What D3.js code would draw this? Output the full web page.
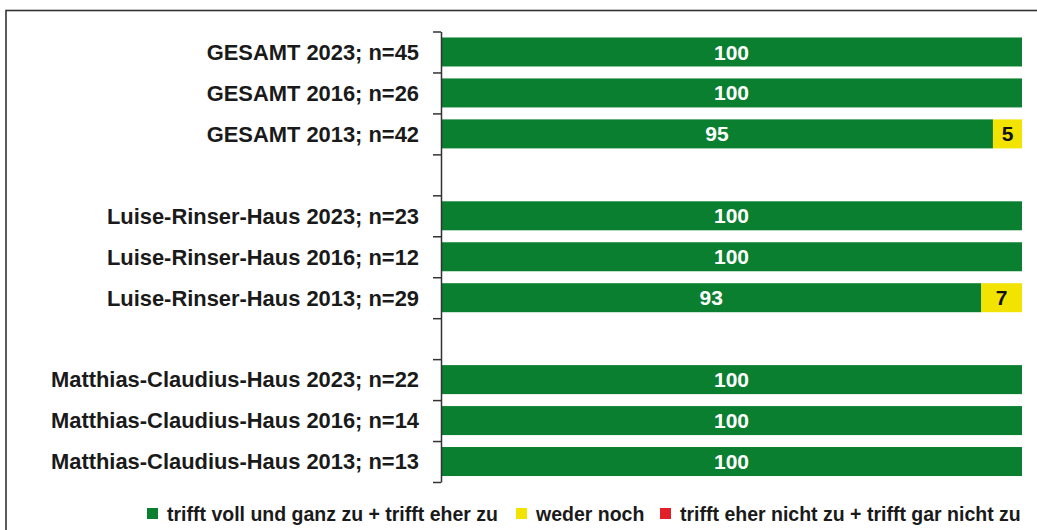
<!DOCTYPE html>
<html>
<head>
<meta charset="utf-8">
<script src="https://cdn.jsdelivr.net/npm/d3@7"></script>
<style>
  body { margin: 0; background: #fff; }
  svg { display: block; font-family: "Liberation Sans", Arial, sans-serif; }
</style>
</head>
<body>
<div id="chart"></div>
<script>
// slot labels; "" marks an empty gap row between the groups
let categories = [
  "GESAMT 2023; n=45",
  "GESAMT 2016; n=26",
  "GESAMT 2013; n=42",
  "",
  "Luise-Rinser-Haus 2023; n=23",
  "Luise-Rinser-Haus 2016; n=12",
  "Luise-Rinser-Haus 2013; n=29",
  "",
  "Matthias-Claudius-Haus 2023; n=22",
  "Matthias-Claudius-Haus 2016; n=14",
  "Matthias-Claudius-Haus 2013; n=13"
];
let agree    = [100, 100, 95, null, 100, 100, 93, null, 100, 100, 100];
let neutral  = [0, 0, 5, null, 0, 0, 7, null, 0, 0, 0];
let disagree = [0, 0, 0, null, 0, 0, 0, null, 0, 0, 0];

let seriesNames = [
  "trifft voll und ganz zu + trifft eher zu",
  "weder noch",
  "trifft eher nicht zu + trifft gar nicht zu"
];
let colors = ["#0a7f2f", "#f2e400", "#e3202a"];
let labelColors = ["#fff", "#111", "#fff"];

let width = 1037, height = 530;

let svg = d3.select("#chart").append("svg")
  .attr("width", width)
  .attr("height", height);

// outer frame (runs off the right and bottom edge)
svg.append("rect")
  .attr("x", 6).attr("y", 10.5)
  .attr("width", 1200).attr("height", 700)
  .attr("fill", "none")
  .attr("stroke", "#333")
  .attr("stroke-width", 1.6);

let x = d3.scaleLinear().domain([0, 100]).range([441, 1022]);
let slot = d3.scaleLinear().domain([0, categories.length]).range([31.5, 482]);
let step = slot(1) - slot(0);
let barH = 29;

let rows = categories.map((c, i) => ({
  name: c, i: i, values: [agree[i], neutral[i], disagree[i]]
})).filter(d => d.name !== "");

let segs = [];
rows.forEach(r => {
  let acc = 0;
  r.values.forEach((v, k) => {
    if (v > 0) segs.push({ i: r.i, k: k, x0: acc, x1: acc + v, v: v });
    acc += v;
  });
});

svg.append("g")
  .selectAll("rect")
  .data(segs)
  .join("rect")
  .attr("x", d => x(d.x0))
  .attr("y", d => slot(d.i) + (step - barH) / 2)
  .attr("width", d => x(d.x1) - x(d.x0))
  .attr("height", barH)
  .attr("fill", d => colors[d.k]);

svg.append("g")
  .selectAll("text")
  .data(segs)
  .join("text")
  .attr("x", d => (x(d.x0) + x(d.x1)) / 2)
  .attr("y", d => slot(d.i) + step / 2)
  .attr("dy", "0.36em")
  .attr("text-anchor", "middle")
  .attr("font-size", "21px")
  .attr("font-weight", "bold")
  .attr("fill", d => labelColors[d.k])
  .text(d => d.v);

// category axis with ticks at the slot borders
let axis = d3.axisLeft(slot)
  .tickValues(d3.range(0, categories.length + 1))
  .tickFormat("")
  .tickSize(8)
  .tickSizeOuter(0);

svg.append("g")
  .attr("transform", "translate(441,0)")
  .call(axis)
  .call(g => g.selectAll("line, path").attr("stroke", "#333").attr("stroke-width", 1.5));

svg.append("g")
  .selectAll("text")
  .data(rows)
  .join("text")
  .attr("x", 419)
  .attr("y", d => slot(d.i) + step / 2)
  .attr("dy", "0.36em")
  .attr("text-anchor", "end")
  .attr("font-size", "21.9px")
  .attr("font-weight", "bold")
  .attr("fill", "#1a1a1a")
  .text(d => d.name);

// legend
let legendX = [147, 516, 660];
let legend = svg.append("g")
  .selectAll("g")
  .data(seriesNames)
  .join("g")
  .attr("transform", (d, i) => `translate(${legendX[i]},508)`);

legend.append("rect")
  .attr("width", 11).attr("height", 11)
  .attr("fill", (d, i) => colors[i]);

legend.append("text")
  .attr("x", 20)
  .attr("y", 5.5)
  .attr("dy", "0.36em")
  .attr("font-size", "19.5px")
  .attr("font-weight", "bold")
  .attr("fill", "#1a1a1a")
  .text(d => d);
</script>
</body>
</html>
